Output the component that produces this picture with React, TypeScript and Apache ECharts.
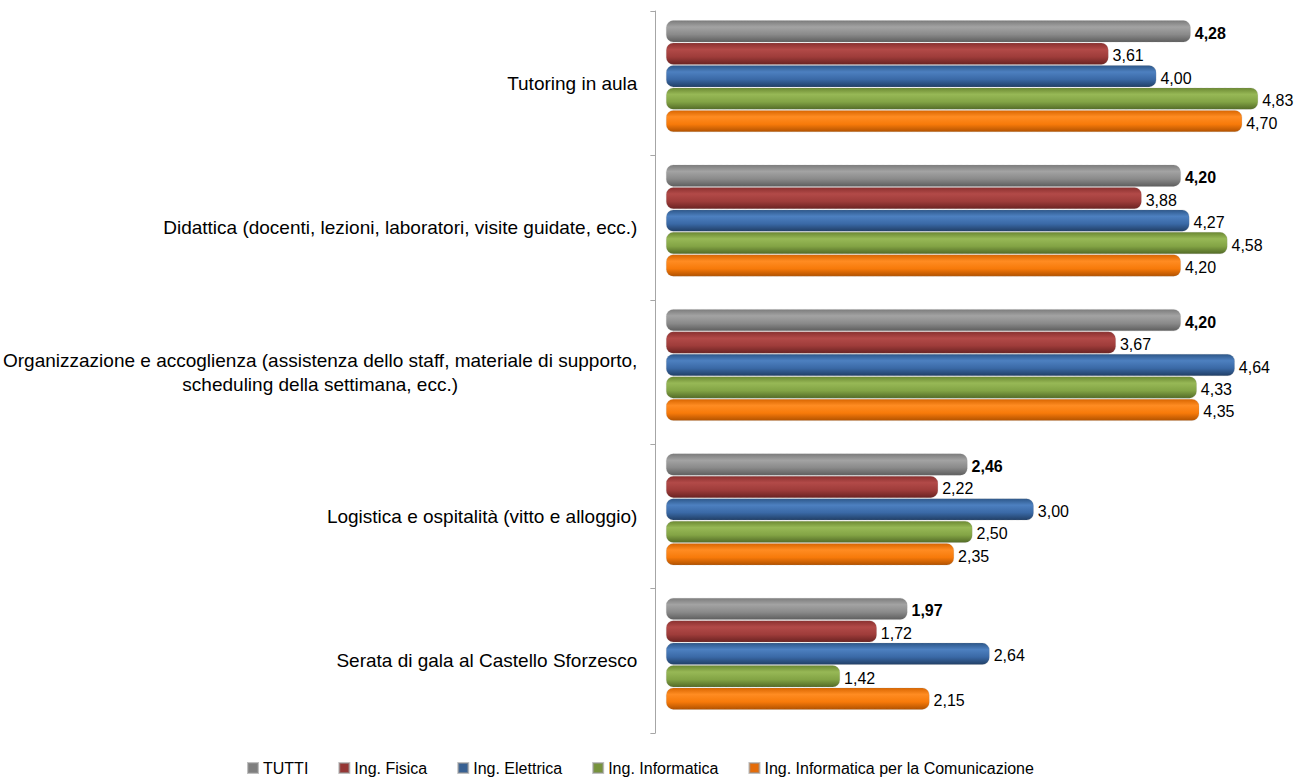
import React, { useEffect, useRef } from "react";
import * as echarts from "echarts";

const categories = [
  "Tutoring in aula",
  "Didattica (docenti, lezioni, laboratori, visite guidate, ecc.)",
  "Organizzazione e accoglienza (assistenza dello staff, materiale di supporto,\nscheduling della settimana, ecc.)",
  "Logistica e ospitalità (vitto e alloggio)",
  "Serata di gala al Castello Sforzesco",
];

const seriesNames = [
  "TUTTI",
  "Ing. Fisica",
  "Ing. Elettrica",
  "Ing. Informatica",
  "Ing. Informatica per la Comunicazione",
];

const tutti = [4.28, 4.2, 4.2, 2.46, 1.97];
const fisica = [3.61, 3.88, 3.67, 2.22, 1.72];
const elettrica = [4.0, 4.27, 4.64, 3.0, 2.64];
const informatica = [4.83, 4.58, 4.33, 2.5, 1.42];
const comunicazione = [4.7, 4.2, 4.35, 2.35, 2.15];

const seriesValues = [tutti, fisica, elettrica, informatica, comunicazione];

const legendColors = ["#7f7f7f", "#953735", "#376092", "#77933c", "#e46c0a"];
// [top, light, base, bottom]
const barShades = [
  ["#7c7c7c", "#a3a3a3", "#8a8a8a", "#5e5e5e"],
  ["#8a302f", "#b24a48", "#9e3c3a", "#6a2322"],
  ["#2d5789", "#4d80c0", "#3a69a6", "#213f66"],
  ["#6b8832", "#97b856", "#83a445", "#536b27"],
  ["#d86500", "#ff8c22", "#f77a0a", "#b25200"],
];

const FONT = "'Liberation Sans', Arial, sans-serif";

export default function App() {
  const ref = useRef<HTMLDivElement>(null);
  useEffect(() => {
    if (!ref.current) return;
    const chart = echarts.init(ref.current, undefined, { renderer: "svg" });
    const fmt = (v: number) => v.toFixed(2).replace(".", ",");
    chart.setOption({
      animation: false,
      backgroundColor: "#ffffff",
      textStyle: { fontFamily: FONT },
      grid: [
        { left: 655, right: 31, top: 11, bottom: 46, containLabel: false },
        { left: 666, right: 31, top: 4, bottom: 53, containLabel: false },
      ],
      legend: {
        top: 755,
        left: 242,
        icon: "rect",
        itemWidth: 10,
        itemHeight: 10,
        itemGap: 30,
        textStyle: { fontFamily: FONT, fontSize: 16, color: "#000" },
        data: seriesNames.map((n, i) => ({ name: n, itemStyle: { color: legendColors[i] } })),
      },
      xAxis: [
        { type: "value", gridIndex: 0, min: 0, max: 5, show: false },
        { type: "value", gridIndex: 1, min: 0, max: 5, show: false },
      ],
      yAxis: [
        {
          type: "category",
          gridIndex: 0,
          inverse: true,
          data: categories,
          axisLine: { show: true, lineStyle: { color: "#a6a6a6", width: 1 } },
          axisTick: { show: true, length: 5, lineStyle: { color: "#a6a6a6" } },
          axisLabel: {
            margin: 18,
            fontFamily: FONT,
            fontSize: 19,
            color: "#000",
            formatter: (v: string) =>
              v
                .split("\n")
                .map((l) => `{c|${l}}`)
                .join("\n"),
            rich: { c: { align: "center", fontFamily: FONT, fontSize: 19, color: "#000", lineHeight: 24 } },
          },
          splitLine: { show: false },
        },
        {
          type: "category",
          gridIndex: 1,
          inverse: true,
          data: categories,
          show: false,
        },
      ],
      series: seriesNames.map((name, i) => ({
        name,
        type: "bar",
        xAxisIndex: 1,
        yAxisIndex: 1,
        data: seriesValues[i],
        barWidth: 22,
        barGap: "2%",
        itemStyle: {
          borderRadius: 7,
          borderColor: "rgba(150,150,150,0.6)",
          borderWidth: 0.6,
          borderType: "dotted",
          color: new echarts.graphic.LinearGradient(0, 0, 0, 1, [
            { offset: 0, color: barShades[i][0] },
            { offset: 0.3, color: barShades[i][1] },
            { offset: 0.65, color: barShades[i][2] },
            { offset: 1, color: barShades[i][3] },
          ]),
        },
        label: {
          show: true,
          position: "right",
          distance: 4,
          offset: [0, 2],
          fontFamily: FONT,
          fontSize: 16,
          color: "#000",
          fontWeight: i === 0 ? "bold" : "normal",
          formatter: (p: any) => fmt(p.value),
        },
      })),
    });
    return () => chart.dispose();
  }, []);
  return (
    <div
      ref={ref}
      style={{ position: "fixed", left: 0, top: 0, width: 1310, height: 779 }}
    />
  );
}
